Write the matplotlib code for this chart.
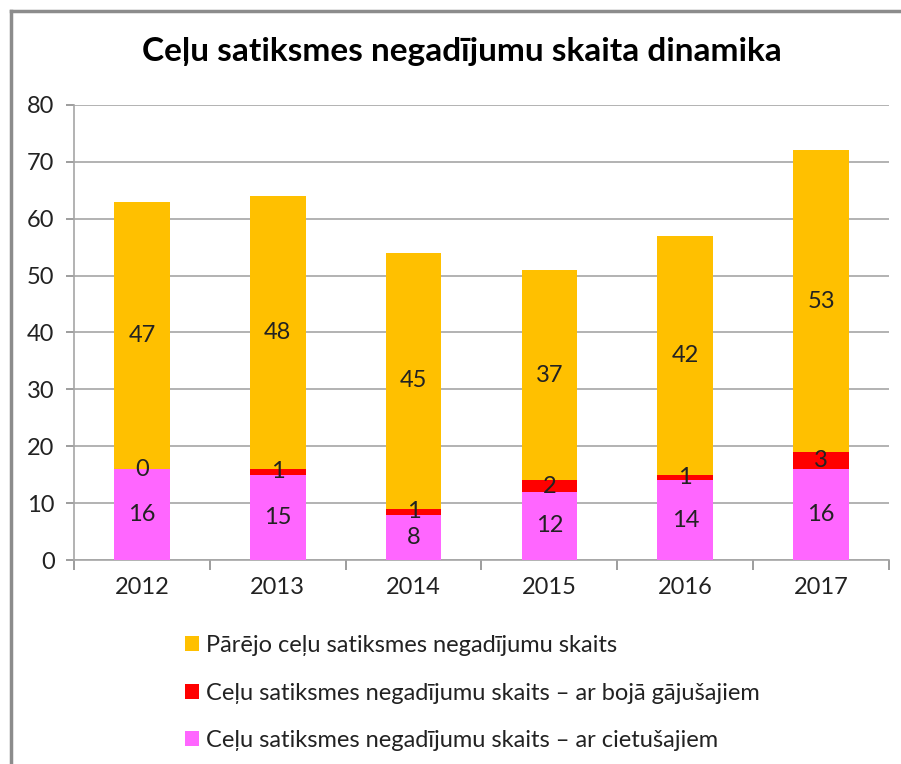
import matplotlib.pyplot as plt
from matplotlib.lines import Line2D

plt.rcParams['font.family'] = ['Lato', 'DejaVu Sans']

years = ['2012', '2013', '2014', '2015', '2016', '2017']
injured = [16, 15, 8, 12, 14, 16]
killed = [0, 1, 1, 2, 1, 3]
other = [47, 48, 45, 37, 42, 53]

labels = ['Pārējo ceļu satiksmes negadījumu skaits',
          'Ceļu satiksmes negadījumu skaits – ar bojā gājušajiem',
          'Ceļu satiksmes negadījumu skaits – ar cietušajiem']
colors = ['#FFC000', '#FF0000', '#FF66FF']

fig = plt.figure(figsize=(9.01, 7.64), dpi=100)
ax = fig.add_axes([0.0821, 0.267, 0.9046, 0.5956])

x = range(len(years))
w = 0.41
b_inj = ax.bar(x, injured, w, color=colors[2], zorder=3)
b_kil = ax.bar(x, killed, w, bottom=injured, color=colors[1], zorder=3)
bottom3 = [a + b for a, b in zip(injured, killed)]
b_oth = ax.bar(x, other, w, bottom=bottom3, color=colors[0], zorder=3)

# data labels in the middle of each segment
lab = dict(ha='center', va='center', fontsize=17, color='#222222', zorder=4)
for i in x:
    ax.text(i, injured[i] / 2, str(injured[i]), **lab)
    ax.text(i, injured[i] + killed[i] / 2, str(killed[i]), **lab)
    ax.text(i, bottom3[i] + other[i] / 2, str(other[i]), **lab)

ax.set_ylim(0, 80)
ax.set_yticks(range(0, 81, 10))
ax.set_xlim(-0.5, len(years) - 0.5)
ax.set_xticks(list(x))
ax.set_xticklabels(years)
ax.set_xticks([i + 0.5 for i in range(-1, len(years))], minor=True)
ax.tick_params(axis='x', which='major', length=0, pad=12, labelsize=17, colors='#222222')
ax.tick_params(axis='x', which='minor', length=7, width=1.2, color='#8c8c8c')
ax.tick_params(axis='y', length=6, width=1.2, color='#8c8c8c', pad=8, labelsize=17,
               labelcolor='#222222')
ax.grid(axis='y', color='#a6a6a6', linewidth=1.2, zorder=0)
for s in ['top', 'right']:
    ax.spines[s].set_visible(False)
for s in ['left', 'bottom']:
    ax.spines[s].set_color('#a6a6a6')
    ax.spines[s].set_linewidth(1.2)

fig.text(0.513, 0.932, 'Ceļu satiksmes negadījumu skaita dinamika', ha='center', va='center',
         fontsize=24, fontweight='bold', color='black')

fig.legend([b_oth, b_kil, b_inj], labels, loc='upper left', bbox_to_anchor=(0.195, 0.181),
           frameon=False, fontsize=17, handlelength=0.6, handleheight=0.6,
           handletextpad=0.3, labelspacing=1.12, labelcolor='#222222', borderaxespad=0)

# outer chart frame (only top and left edges visible)
fx, fy = 11 / 901, 1 - 11 / 764
fig.add_artist(Line2D([fx, 1.0], [fy, fy], transform=fig.transFigure,
                      color='#8c8c8c', linewidth=2.5, solid_capstyle='projecting'))
fig.add_artist(Line2D([fx, fx], [fy, 0.0], transform=fig.transFigure,
                      color='#8c8c8c', linewidth=2.5, solid_capstyle='projecting'))

fig.savefig('out.png', dpi=100)
